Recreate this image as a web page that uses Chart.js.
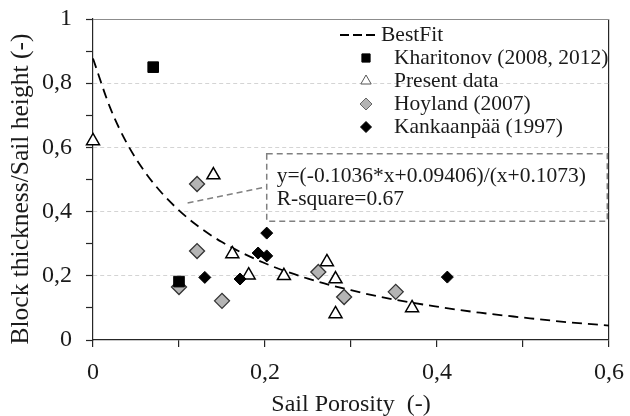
<!DOCTYPE html>
<html>
<head>
<meta charset="utf-8">
<script src="https://cdn.jsdelivr.net/npm/chart.js@4"></script>
<style>
  html, body { margin: 0; padding: 0; background: #fff; }
  #wrap { width: 630px; height: 416px; }
</style>
</head>
<body>
<div id="wrap"><canvas id="scatterChart" width="630" height="416"></canvas></div>
<script>
// values
var fitX = [0, 0.02, 0.04, 0.06, 0.08, 0.1, 0.12, 0.15, 0.2, 0.25, 0.3, 0.35, 0.4, 0.45, 0.5, 0.55, 0.6];
var fitY = [0.877, 0.723, 0.61, 0.525, 0.458, 0.404, 0.359, 0.305, 0.239, 0.191, 0.155, 0.126, 0.104, 0.085, 0.07, 0.056, 0.045];

var kharitonovX = [0.07, 0.10];
var kharitonovY = [0.85, 0.182];

var presentX = [0, 0.14, 0.162, 0.181, 0.222, 0.272, 0.282, 0.282, 0.371];
var presentY = [0.62, 0.514, 0.268, 0.202, 0.2, 0.243, 0.19, 0.081, 0.1];

var hoylandX = [0.10, 0.121, 0.121, 0.15, 0.262, 0.292, 0.352];
var hoylandY = [0.165, 0.486, 0.277, 0.122, 0.212, 0.134, 0.15];

var kankaanpaaX = [0.13, 0.171, 0.192, 0.202, 0.202, 0.412];
var kankaanpaaY = [0.195, 0.19, 0.271, 0.262, 0.333, 0.196];

var seriesNames = ['BestFit', 'Kharitonov (2008, 2012)', 'Present data', 'Hoyland (2007)', 'Kankaanpää (1997)'];
var xTickLabels = ['0', '0,2', '0,4', '0,6'];
var yTickLabels = ['0', '0,2', '0,4', '0,6', '0,8', '1'];
var fitText = ['y=(-0.1036*x+0.09406)/(x+0.1073)', 'R-square=0.67'];

var serif = "'Liberation Serif', 'Times New Roman', serif";
var textColor = '#1a1a1a';

function toPoints(xs, ys) {
    return xs.map(function(x, i) { return { x: x, y: ys[i] }; });
}

function tenth(ctx) {
    return ctx.tick ? Math.round(ctx.tick.value * 10) : -1;
}

// legend drawn inside the plot, top right
var legendBox = {
    id: 'legendBox',
    afterDraw: function(chart) {
        var ctx = chart.ctx;
        var area = chart.chartArea;
        var rowY = area.top + 16;
        var markX = 366;
        var styles = [
            null,
            { pointStyle: 'rect', radius: 5.8, fill: '#000', stroke: '#000', width: 1 },
            { pointStyle: 'triangle', radius: 6, fill: '#fff', stroke: '#555', width: 1 },
            { pointStyle: 'rectRot', radius: 6, fill: '#b4b4b4', stroke: '#666', width: 1 },
            { pointStyle: 'rectRot', radius: 5.5, fill: '#000', stroke: '#000', width: 1 }
        ];
        ctx.save();
        ctx.font = '21.5px ' + serif;
        ctx.textBaseline = 'middle';
        ctx.textAlign = 'left';
        seriesNames.forEach(function(name, i) {
            var y = rowY + i * 23;
            if (i === 0) {
                ctx.strokeStyle = '#000';
                ctx.lineWidth = 1.8;
                ctx.setLineDash([9, 4]);
                ctx.beginPath();
                ctx.moveTo(340, y);
                ctx.lineTo(379, y);
                ctx.stroke();
                ctx.setLineDash([]);
                ctx.fillStyle = textColor;
                ctx.fillText(name, 381, y);
            } else {
                var s = styles[i];
                ctx.fillStyle = s.fill;
                ctx.strokeStyle = s.stroke;
                ctx.lineWidth = s.width;
                Chart.helpers.drawPoint(ctx, { pointStyle: s.pointStyle, radius: s.radius, rotation: 0, borderWidth: s.width }, markX, y);
                ctx.fillStyle = textColor;
                ctx.fillText(name, 394, y);
            }
        });
        ctx.restore();
    }
};

// dashed note box with the fit equation
var fitNote = {
    id: 'fitNote',
    afterDatasetsDraw: function(chart) {
        var ctx = chart.ctx;
        var xs = chart.scales.x, ys = chart.scales.y;
        var left = xs.getPixelForValue(0.202), right = xs.getPixelForValue(0.598);
        var top = ys.getPixelForValue(0.58), bottom = ys.getPixelForValue(0.37);
        ctx.save();
        ctx.strokeStyle = '#808080';
        ctx.lineWidth = 1.5;
        ctx.setLineDash([6, 4]);
        ctx.strokeRect(left, top, right - left, bottom - top);
        ctx.beginPath();
        ctx.moveTo(xs.getPixelForValue(0.11), ys.getPixelForValue(0.427));
        ctx.lineTo(left, ys.getPixelForValue(0.477));
        ctx.stroke();
        ctx.setLineDash([]);
        ctx.fillStyle = textColor;
        ctx.font = '21.5px ' + serif;
        ctx.textBaseline = 'middle';
        ctx.fillText(fitText[0], left + 10, top + 23);
        ctx.fillText(fitText[1], left + 10, top + 46);
        ctx.restore();
    }
};

var ctx = document.getElementById('scatterChart').getContext('2d');
var scatterChart = new Chart(ctx, {
    type: 'scatter',
    data: {
        datasets: [{
            label: seriesNames[1],
            data: toPoints(kharitonovX, kharitonovY),
            pointStyle: 'rect',
            pointRadius: 7.5,
            backgroundColor: '#000',
            borderColor: '#000',
            borderWidth: 1,
            clip: false
        }, {
            label: seriesNames[4],
            data: toPoints(kankaanpaaX, kankaanpaaY),
            pointStyle: 'rectRot',
            pointRadius: 6,
            backgroundColor: '#000',
            borderColor: '#000',
            borderWidth: 1,
            clip: false
        }, {
            label: seriesNames[3],
            data: toPoints(hoylandX, hoylandY),
            pointStyle: 'rectRot',
            pointRadius: 7.5,
            backgroundColor: '#b4b4b4',
            borderColor: '#333',
            borderWidth: 1.3,
            clip: false
        }, {
            label: seriesNames[2],
            data: toPoints(presentX, presentY),
            pointStyle: 'triangle',
            pointRadius: 7.5,
            backgroundColor: '#fff',
            borderColor: '#000',
            borderWidth: 1.5,
            clip: false
        }, {
            label: seriesNames[0],
            data: toPoints(fitX, fitY),
            showLine: true,
            borderColor: '#000',
            borderWidth: 1.8,
            borderDash: [10, 6],
            pointRadius: 0,
            cubicInterpolationMode: 'monotone',
            fill: false,
            clip: false
        }]
    },
    options: {
        responsive: false,
        animation: false,
        layout: { padding: { left: 0, right: 21, top: 19, bottom: 0 } },
        plugins: {
            legend: { display: false },
            tooltip: { enabled: false }
        },
        scales: {
            x: {
                type: 'linear',
                min: 0,
                max: 0.6,
                afterFit: function(scale) {
                    scale.height = 76;
                    scale.paddingLeft = 0;
                    scale.paddingRight = 0;
                },
                ticks: {
                    stepSize: 0.1,
                    autoSkip: false,
                    maxRotation: 0,
                    padding: 11,
                    color: textColor,
                    font: { family: serif, size: 24 },
                    callback: function(value) {
                        var i = Math.round(value * 10);
                        return i % 2 ? '' : xTickLabels[i / 2];
                    }
                },
                grid: {
                    color: function(c) { return tenth(c) === 6 ? '#262626' : 'rgba(0,0,0,0)'; },
                    lineWidth: 1.2,
                    tickColor: '#262626',
                    tickLength: 7,
                    tickWidth: 1.2
                },
                border: { color: '#262626', width: 1.2 },
                title: {
                    display: true,
                    text: 'Sail Porosity  (-)',
                    color: textColor,
                    font: { family: serif, size: 24, lineHeight: 0.9 },
                    padding: { top: 0, bottom: 0 }
                }
            },
            y: {
                min: 0,
                max: 1,
                afterFit: function(scale) {
                    scale.width = 93;
                    scale.paddingTop = 0;
                    scale.paddingBottom = 0;
                },
                ticks: {
                    stepSize: 0.1,
                    autoSkip: false,
                    padding: 14,
                    color: textColor,
                    font: { family: serif, size: 24 },
                    callback: function(value) {
                        var i = Math.round(value * 10);
                        return i % 2 ? '' : yTickLabels[i / 2];
                    }
                },
                grid: {
                    color: function(c) {
                        var i = tenth(c);
                        if (i === 10) return '#8c8c8c';
                        return (i > 0 && i % 2 === 0) ? '#d4d4d4' : 'rgba(0,0,0,0)';
                    },
                    lineWidth: 1,
                    tickColor: '#262626',
                    tickLength: 7,
                    tickWidth: 1.2
                },
                border: {
                    color: '#262626',
                    width: 1.2,
                    dash: function(c) { return tenth(c) === 10 ? [] : [4, 3]; }
                },
                title: {
                    display: true,
                    // trailing spaces nudge the rotated title a little lower, as in the original
                    text: 'Block thickness/Sail height (-)   ',
                    color: textColor,
                    font: { family: serif, size: 25.5 },
                    padding: { top: 6, bottom: 0 }
                }
            }
        }
    },
    plugins: [fitNote, legendBox]
});
</script>
</body>
</html>
